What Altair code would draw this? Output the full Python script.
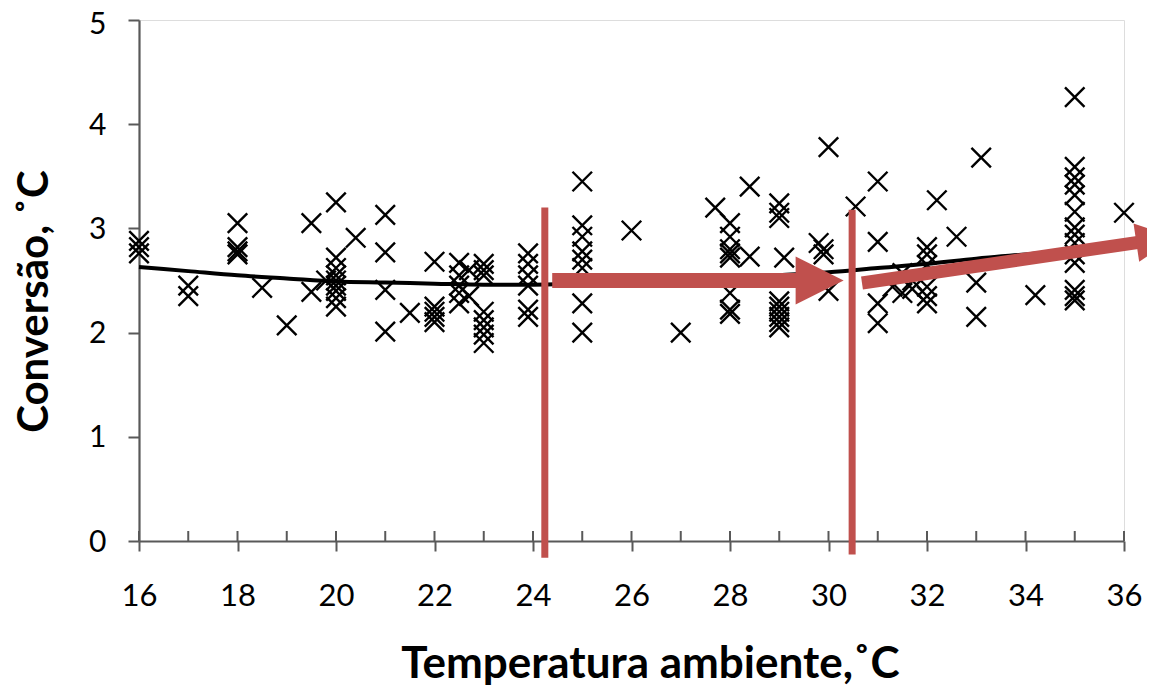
import altair as alt
import pandas as pd

# ---- scatter data ----
temp = [16, 16, 16,
        17, 17,
        18, 18, 18, 18,
        18.5, 19, 19.5, 19.5, 19.8,
        20, 20, 20, 20, 20, 20, 20, 20, 20,
        20.4,
        21, 21, 21, 21, 21.5,
        22, 22, 22, 22, 22,
        22.5, 22.5, 22.5, 22.5, 22.5, 22.7, 22.7,
        23, 23, 23, 23, 23, 23, 23, 23,
        23.9, 23.9, 23.9, 23.9, 23.9, 23.9,
        25, 25, 25, 25, 25, 25, 25, 25,
        26, 27, 27.7,
        28, 28, 28, 28, 28, 28, 28, 28,
        28.4, 28.4,
        29, 29, 29, 29.1, 29, 29, 29, 29, 29, 29,
        29.8, 29.9, 29.9, 30, 30,
        30.55,
        31, 31, 31, 31,
        31.3, 31.5, 31.5, 31.7, 31.7,
        32, 32, 32, 32, 32, 32,
        32.2, 32.6,
        33, 33, 33.1,
        34.2,
        35, 35, 35, 35, 35, 35, 35, 35, 35, 35, 35, 35, 35, 35,
        36]
conv = [2.88, 2.82, 2.76,
        2.45, 2.35,
        3.05, 2.82, 2.78, 2.75,
        2.43, 2.07, 3.05, 2.39, 2.5,
        3.25, 2.72, 2.62, 2.55, 2.5, 2.45, 2.4, 2.33, 2.25,
        2.91,
        3.13, 2.77, 2.41, 2.01, 2.19,
        2.68, 2.25, 2.2, 2.15, 2.1,
        2.67, 2.55, 2.45, 2.38, 2.28, 2.6, 2.35,
        2.66, 2.6, 2.55, 2.2, 2.12, 2.05, 1.98, 1.9,
        2.76, 2.66, 2.55, 2.45, 2.22, 2.15,
        3.45, 3.03, 2.92, 2.78, 2.7, 2.62, 2.28, 2.0,
        2.98, 2.0, 3.2,
        3.05, 2.92, 2.8, 2.76, 2.72, 2.38, 2.22, 2.18,
        3.4, 2.73,
        3.24, 3.15, 3.1, 2.72, 2.3, 2.25, 2.2, 2.15, 2.1, 2.05,
        2.86, 2.8, 2.75, 3.78, 2.4,
        3.21,
        3.45, 2.87, 2.28, 2.09,
        2.44, 2.38, 2.57, 2.5, 2.42,
        2.82, 2.75, 2.65, 2.44, 2.35, 2.28,
        3.27, 2.92,
        2.48, 2.15, 3.68,
        2.36,
        4.26, 3.59, 3.49, 3.42, 3.32, 3.16, 3.01, 2.94, 2.86, 2.75, 2.67, 2.41, 2.35, 2.31,
        3.15]

# ---- trend curve ----
trend_x = [16, 17, 18, 19, 20, 21, 22, 23, 24, 25, 26, 27, 28, 29, 30, 31, 32, 33, 34, 35, 36]
trend_y = [2.63, 2.59, 2.55, 2.52, 2.49, 2.48, 2.47, 2.46, 2.46, 2.47, 2.48, 2.50, 2.52,
           2.55, 2.58, 2.62, 2.66, 2.71, 2.75, 2.79, 2.83]

# ---- annotations ----
marker_x = [24.24, 30.48]
marker_top = [3.2, 3.18]
marker_bottom = [-0.16, -0.13]

arrow1_x = [24.39, 29.82]
arrow1_y = [2.5, 2.5]
arrow2_x = [30.68, 36.64]
arrow2_y = [2.476, 2.89]

x_ticks = [16, 18, 20, 22, 24, 26, 28, 30, 32, 34, 36]
x_minor = list(range(16, 37))
y_ticks = [0, 1, 2, 3, 4, 5]

RED = "#C0504D"
AX = "#595959"
FONT = "Lato"

df_pts = pd.DataFrame({"t": temp, "c": conv})
df_trend = pd.DataFrame({"t": trend_x, "c": trend_y})
df_mark = pd.DataFrame({"t": marker_x, "top": marker_top, "bot": marker_bottom})
df_a1 = pd.DataFrame({"t": arrow1_x, "c": arrow1_y})
df_a2 = pd.DataFrame({"t": arrow2_x, "c": arrow2_y})
df_minor = pd.DataFrame({"t": x_minor})

xs = alt.Scale(domain=[16, 36], nice=False, zero=False)
ys = alt.Scale(domain=[0, 5], nice=False, zero=False)

x_axis = alt.Axis(values=x_ticks, format="d", title="Temperatura ambiente,˚C", grid=False,
                  domainColor=AX, domainWidth=2.2, tickColor=AX, tickWidth=2, tickSize=10,
                  labelFont=FONT, labelFontSize=31, labelColor="black", labelPadding=30,
                  titleFont=FONT, titleFontSize=44, titleFontWeight="bold", titleColor="black",
                  titleX=511, titleY=136, titleBaseline="alphabetic", labelFlush=False)
y_axis = alt.Axis(values=y_ticks, format="d", title="Conversão, ˚C", grid=False,
                  domainColor=AX, domainWidth=2.2, tickColor=AX, tickWidth=2, tickSize=11,
                  labelFont=FONT, labelFontSize=30, labelColor="black", labelPadding=22,
                  labelOffset={"condition": {"test": "datum.value === 5", "value": 4}, "value": 1},
                  titleFont=FONT, titleFontSize=42, titleFontWeight="bold", titleColor="black",
                  titleX=-83, titleY=281, titleBaseline="bottom", titleAngle=270, labelFlush=False)

X_SHAPE = "M -1 -1 L 1 1 M -1 1 L 1 -1"
HEAD = "M -1 -1 L 1 0 L -1 1 Z"

base_x = alt.X("t:Q", scale=xs, axis=x_axis)

trend = alt.Chart(df_trend).mark_line(color="black", strokeWidth=4, interpolate="monotone").encode(
    x=base_x, y=alt.Y("c:Q", scale=ys, axis=y_axis))

points = alt.Chart(df_pts).mark_point(shape=X_SHAPE, filled=False, color="black",
                                      strokeWidth=2.4, size=380, opacity=1).encode(
    x=alt.X("t:Q", scale=xs), y=alt.Y("c:Q", scale=ys))

minor = alt.Chart(df_minor).mark_rule(color=AX, strokeWidth=2).encode(
    x=alt.X("t:Q", scale=xs), y=alt.value(521), y2=alt.value(511))

rules = alt.Chart(df_mark).mark_rule(color=RED, strokeWidth=7).encode(
    x=alt.X("t:Q", scale=xs), y=alt.Y("top:Q", scale=ys), y2="bot:Q")

shaft1 = alt.Chart(df_a1).mark_line(color=RED, strokeWidth=15, strokeCap="butt").encode(
    x=alt.X("t:Q", scale=xs), y=alt.Y("c:Q", scale=ys))
head1 = alt.Chart(df_a1.tail(1)).mark_point(shape=HEAD, filled=True, color=RED, opacity=1,
                                            size=2304, angle=0, strokeWidth=0).encode(
    x=alt.X("t:Q", scale=xs), y=alt.Y("c:Q", scale=ys))

shaft2 = alt.Chart(df_a2).mark_line(color=RED, strokeWidth=13, strokeCap="butt").encode(
    x=alt.X("t:Q", scale=xs), y=alt.Y("c:Q", scale=ys))
head2 = alt.Chart(df_a2.tail(1)).mark_point(shape=HEAD, filled=True, color=RED, opacity=1,
                                            size=1500, angle=351.6, strokeWidth=0).encode(
    x=alt.X("t:Q", scale=xs), y=alt.Y("c:Q", scale=ys))

chart = alt.layer(trend, points, minor, rules, shaft1, head1, shaft2, head2).properties(
    width=985, height=521,
    autosize=alt.AutoSizeParams(type="none"),
    padding={"left": 131, "top": 12, "right": 23, "bottom": 145},
).configure_view(stroke=None).configure(background="white")

chart.save("out.html", embed_options={"renderer": "svg", "actions": False})
